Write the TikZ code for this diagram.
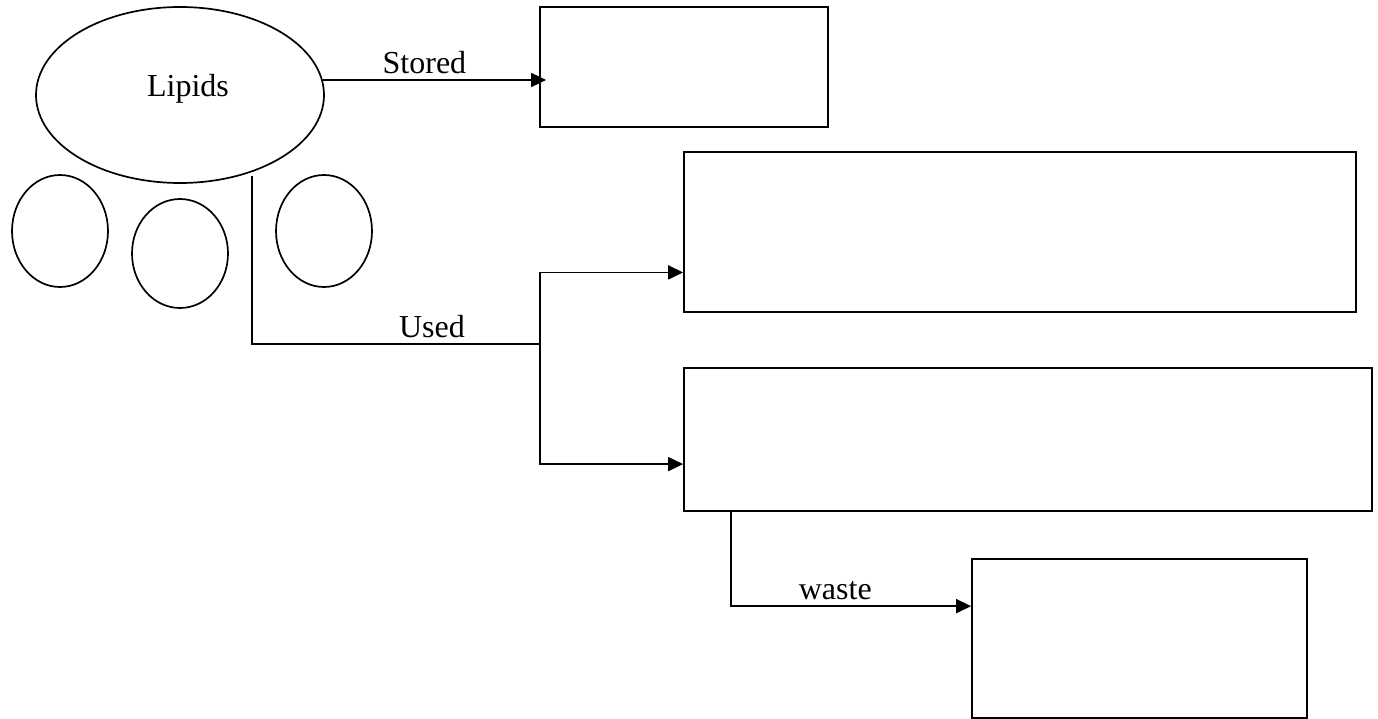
\documentclass[tikz,border=0pt]{standalone}
\usepackage{fontspec}
\setmainfont{Liberation Serif}
\usetikzlibrary{shapes.geometric, arrows.meta, calc}

\begin{document}
\begin{tikzpicture} [x=1pt, y=-1pt, line width=1.7pt,
every node/.style={font=\fontsize{32}{38}\selectfont},
blob/.style = {ellipse, draw, inner sep=0pt, minimum width=96pt, minimum height=112pt},
emptybox/.style = {rectangle, draw, inner sep=0pt},
link/.style = {-{Triangle[length=15pt, width=14pt]}}]

\useasboundingbox (0,0) rectangle (1378,719);

\node (lipids) [ellipse, draw, inner sep=0pt, minimum width=288pt, minimum height=176pt] at (180,95) {};
\node at (188,89) {Lipids};
\node (blob1) [blob] at (60,231) {};
\node (blob2) [blob, minimum height=109pt] at (180,253.5) {};
\node (blob3) [blob] at (324,231) {};

\node (stored) [emptybox, minimum width=288pt, minimum height=120pt] at (684,67) {};
\node (energy) [emptybox, minimum width=672pt, minimum height=160pt] at (1020,232) {};
\node (heat) [emptybox, minimum width=688pt, minimum height=143pt] at (1028,439.5) {};
\node (waste) [emptybox, minimum width=335pt, minimum height=159pt] at (1139.5,638.5) {};

\coordinate (usedtop) at (252,176);
\coordinate (fork) at (540,344);
\coordinate (energytip) at ($(energy.south west)!0.25!(energy.north west)$);
\coordinate (heattip) at ($(heat.south west)!0.33!(heat.north west)$);
\coordinate (wastetop) at ($(heat.south west)+(48,0)$);
\coordinate (wastetip) at ($(waste.north west)+(0,48)$);

\draw [link, shorten >=-7pt] (lipids.6.4) -- (lipids.6.4 -| stored.west)
	node [pos=0.47, above=2pt] {Stored};
\draw (usedtop) |- (fork) node [pos=0.8125, above=2pt] {Used};
\draw [link] (fork) |- (energytip);
\draw [link] (fork) |- (heattip);
\draw [link] (wastetop) |- (wastetip) node [pos=0.717, above=2pt] {waste};
\end{tikzpicture}
\end{document}
